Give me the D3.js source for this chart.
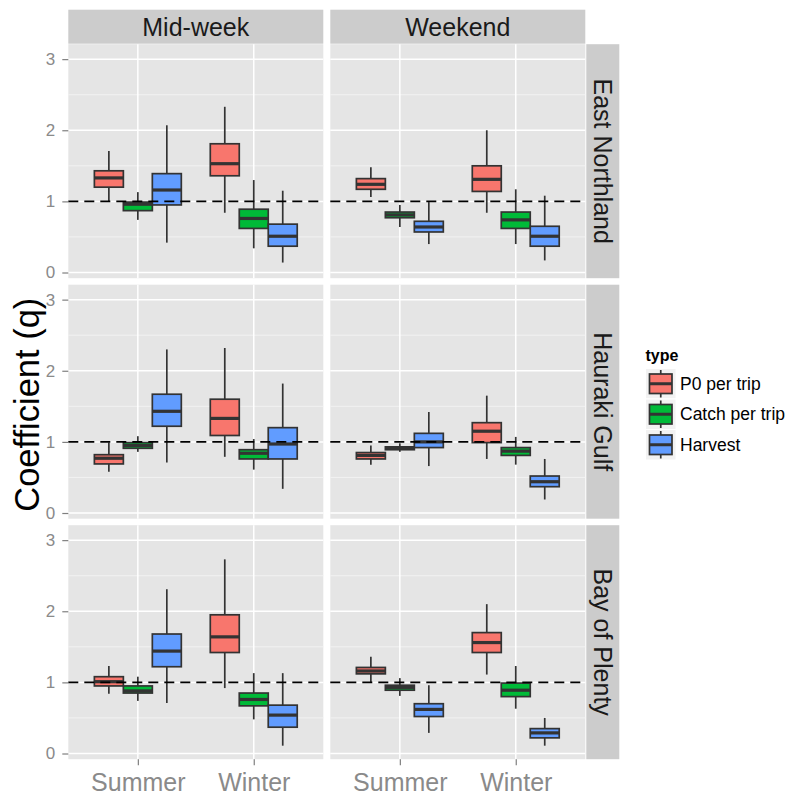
<!DOCTYPE html>
<html>
<head>
<meta charset="utf-8">
<script src="https://cdn.jsdelivr.net/npm/d3@7"></script>
<style>
  html, body { margin: 0; padding: 0; background: #ffffff; }
  svg { display: block; font-family: "Liberation Sans", Arial, sans-serif; }
</style>
</head>
<body>
<svg id="chart" width="793" height="798"></svg>
<script>
// Facet levels and categories
const regions = ["East Northland", "Hauraki Gulf", "Bay of Plenty"];
const days = ["Mid-week", "Weekend"];
const seasons = ["Summer", "Winter"];
const types = ["P0 per trip", "Catch per trip", "Harvest"];
const yTicks = [0, 1, 2, 3];
const refLine = 1;

// Box statistics per region: [day, season, type, min, lower, median, upper, max]
const eastNorthland = [
  ["Mid-week", "Summer", "P0 per trip",    0.99, 1.20, 1.33, 1.43, 1.71],
  ["Mid-week", "Summer", "Catch per trip", 0.74, 0.87, 0.96, 0.99, 1.13],
  ["Mid-week", "Summer", "Harvest",        0.42, 0.95, 1.16, 1.39, 2.07],
  ["Mid-week", "Winter", "P0 per trip",    0.84, 1.36, 1.53, 1.81, 2.33],
  ["Mid-week", "Winter", "Catch per trip", 0.34, 0.62, 0.76, 0.89, 1.30],
  ["Mid-week", "Winter", "Harvest",        0.14, 0.37, 0.51, 0.68, 1.15],
  ["Weekend",  "Summer", "P0 per trip",    1.06, 1.17, 1.24, 1.32, 1.48],
  ["Weekend",  "Summer", "Catch per trip", 0.64, 0.77, 0.81, 0.85, 0.95],
  ["Weekend",  "Summer", "Harvest",        0.40, 0.57, 0.64, 0.72, 0.99],
  ["Weekend",  "Winter", "P0 per trip",    0.84, 1.14, 1.31, 1.50, 2.00],
  ["Weekend",  "Winter", "Catch per trip", 0.40, 0.62, 0.74, 0.85, 1.17],
  ["Weekend",  "Winter", "Harvest",        0.17, 0.37, 0.51, 0.65, 1.08]
];
const haurakiGulf = [
  ["Mid-week", "Summer", "P0 per trip",    0.58, 0.69, 0.77, 0.82, 0.99],
  ["Mid-week", "Summer", "Catch per trip", 0.86, 0.91, 0.95, 0.99, 1.08],
  ["Mid-week", "Summer", "Harvest",        0.71, 1.22, 1.43, 1.67, 2.30],
  ["Mid-week", "Winter", "P0 per trip",    0.79, 1.09, 1.33, 1.60, 2.32],
  ["Mid-week", "Winter", "Catch per trip", 0.61, 0.76, 0.84, 0.89, 1.04],
  ["Mid-week", "Winter", "Harvest",        0.34, 0.76, 0.97, 1.20, 1.82],
  ["Weekend",  "Summer", "P0 per trip",    0.68, 0.76, 0.81, 0.85, 0.95],
  ["Weekend",  "Summer", "Catch per trip", 0.86, 0.89, 0.91, 0.93, 0.98],
  ["Weekend",  "Summer", "Harvest",        0.66, 0.92, 1.00, 1.12, 1.42],
  ["Weekend",  "Winter", "P0 per trip",    0.76, 0.99, 1.15, 1.27, 1.65],
  ["Weekend",  "Winter", "Catch per trip", 0.68, 0.81, 0.87, 0.92, 1.07],
  ["Weekend",  "Winter", "Harvest",        0.19, 0.37, 0.44, 0.52, 0.76]
];
const bayOfPlenty = [
  ["Mid-week", "Summer", "P0 per trip",    0.84, 0.95, 1.01, 1.08, 1.23],
  ["Mid-week", "Summer", "Catch per trip", 0.74, 0.85, 0.88, 0.95, 1.08],
  ["Mid-week", "Summer", "Harvest",        0.71, 1.22, 1.44, 1.68, 2.31],
  ["Mid-week", "Winter", "P0 per trip",    0.92, 1.42, 1.64, 1.95, 2.73],
  ["Mid-week", "Winter", "Catch per trip", 0.48, 0.67, 0.76, 0.85, 1.13],
  ["Mid-week", "Winter", "Harvest",        0.11, 0.37, 0.54, 0.68, 1.13],
  ["Weekend",  "Summer", "P0 per trip",    1.00, 1.12, 1.16, 1.21, 1.36],
  ["Weekend",  "Summer", "Catch per trip", 0.81, 0.89, 0.93, 0.96, 1.06],
  ["Weekend",  "Summer", "Harvest",        0.29, 0.52, 0.62, 0.70, 0.96],
  ["Weekend",  "Winter", "P0 per trip",    1.11, 1.42, 1.56, 1.70, 2.10],
  ["Weekend",  "Winter", "Catch per trip", 0.63, 0.80, 0.89, 0.99, 1.23],
  ["Weekend",  "Winter", "Harvest",        0.11, 0.22, 0.29, 0.35, 0.50]
];
const regionStats = [eastNorthland, haurakiGulf, bayOfPlenty];

// Styling
const fillColours = ["#F8766D", "#00BA38", "#619CFF"];
const panelBg = "#E5E5E5";
const stripBg = "#CCCCCC";
const lineCol = "#333333";
const greyText = "#8A8A8A";

// Layout
const panelLeft = 68.3, panelTop = 44.2;
const panelW = 255, panelH = 234;
const gapX = 7, gapY = 6.5;
const stripH = 34, stripW = 33;

const svg = d3.select("#chart");

const colour = d3.scaleOrdinal().domain(types).range(fillColours);
const x = d3.scalePoint().domain(seasons).range([0, panelW]).padding(0.6);
const step = x.step();
const dodge = d3.scaleBand().domain(types).range([-0.375 * step, 0.375 * step]);
const y = d3.scaleLinear().domain([-0.08, 3.21]).range([panelH, 0]);
const minorTicks = [0.5, 1.5, 2.5];

const col = d3.scaleOrdinal().domain(days).range(days.map((d, i) => panelLeft + i * (panelW + gapX)));
const row = d3.scaleOrdinal().domain(regions).range(regions.map((r, i) => panelTop + i * (panelH + gapY)));

regions.forEach((region, ri) => {
  const rows = regionStats[ri].map(d => ({
    day: d[0], season: d[1], type: d[2],
    min: d[3], lower: d[4], mid: d[5], upper: d[6], max: d[7]
  }));
  days.forEach(day => {
    const g = svg.append("g").attr("transform", `translate(${col(day)},${row(region)})`);
    g.append("rect").attr("width", panelW).attr("height", panelH).attr("fill", panelBg);

    // minor grid
    g.selectAll(".minor").data(minorTicks).enter().append("line")
      .attr("x1", 0).attr("x2", panelW)
      .attr("y1", d => y(d)).attr("y2", d => y(d))
      .attr("stroke", "#F2F2F2").attr("stroke-width", 1);
    // major grid
    g.selectAll(".majorY").data(yTicks).enter().append("line")
      .attr("x1", 0).attr("x2", panelW)
      .attr("y1", d => y(d)).attr("y2", d => y(d))
      .attr("stroke", "#FFFFFF").attr("stroke-width", 1.5);
    g.selectAll(".majorX").data(seasons).enter().append("line")
      .attr("y1", 0).attr("y2", panelH)
      .attr("x1", d => x(d)).attr("x2", d => x(d))
      .attr("stroke", "#FFFFFF").attr("stroke-width", 1.5);

    const boxes = rows.filter(d => d.day === day);
    const bw = dodge.bandwidth();
    const bg = g.selectAll(".box").data(boxes).enter().append("g")
      .attr("transform", d => `translate(${x(d.season) + dodge(d.type)},0)`);
    // whiskers
    bg.append("line").attr("x1", bw / 2).attr("x2", bw / 2)
      .attr("y1", d => y(d.max)).attr("y2", d => y(d.upper))
      .attr("stroke", lineCol).attr("stroke-width", 1.7);
    bg.append("line").attr("x1", bw / 2).attr("x2", bw / 2)
      .attr("y1", d => y(d.lower)).attr("y2", d => y(d.min))
      .attr("stroke", lineCol).attr("stroke-width", 1.7);
    // box
    bg.append("rect").attr("x", 0).attr("width", bw)
      .attr("y", d => y(d.upper)).attr("height", d => y(d.lower) - y(d.upper))
      .attr("fill", d => colour(d.type))
      .attr("stroke", lineCol).attr("stroke-width", 1.7);
    // median
    bg.append("line").attr("x1", 0).attr("x2", bw)
      .attr("y1", d => y(d.mid)).attr("y2", d => y(d.mid))
      .attr("stroke", lineCol).attr("stroke-width", 3.2);

    // reference line
    g.append("line").attr("x1", 0).attr("x2", panelW)
      .attr("y1", y(refLine)).attr("y2", y(refLine))
      .attr("stroke", "#000000").attr("stroke-width", 1.8)
      .attr("stroke-dasharray", "10,6");
  });

  // y axis for the left column
  const ay = svg.append("g").attr("transform", `translate(${panelLeft},${row(region)})`);
  ay.call(d3.axisLeft(y).tickValues(yTicks).tickSize(6).tickPadding(7).tickFormat(d3.format("d")));
  ay.select(".domain").remove();
  ay.selectAll(".tick line").attr("stroke", "#7F7F7F").attr("stroke-width", 1.2);
  ay.selectAll(".tick text").attr("fill", greyText).attr("font-size", 17)
    .attr("font-family", "Liberation Sans, Arial, sans-serif");

  // right strip
  const sx = col(days[days.length - 1]) + panelW + 1;
  svg.append("rect").attr("x", sx).attr("y", row(region))
    .attr("width", stripW).attr("height", panelH).attr("fill", stripBg);
  svg.append("text")
    .attr("transform", `translate(${sx + stripW / 2},${row(region) + panelH / 2}) rotate(90)`)
    .attr("text-anchor", "middle").attr("dominant-baseline", "central")
    .attr("font-size", 25).attr("fill", "#1a1a1a").text(region);
});

// top strips and x axes
days.forEach(day => {
  svg.append("rect").attr("x", col(day)).attr("y", panelTop - stripH - 0.5)
    .attr("width", panelW).attr("height", stripH).attr("fill", stripBg);
  svg.append("text").attr("x", col(day) + panelW / 2).attr("y", panelTop - stripH / 2 - 0.5)
    .attr("text-anchor", "middle").attr("dominant-baseline", "central")
    .attr("font-size", 25).attr("fill", "#1a1a1a").text(day);

  const bottom = row(regions[regions.length - 1]) + panelH;
  const ax = svg.append("g").attr("transform", `translate(${col(day)},${bottom})`);
  ax.call(d3.axisBottom(x).tickSize(6).tickPadding(8));
  ax.select(".domain").remove();
  ax.selectAll(".tick line").attr("stroke", "#7F7F7F").attr("stroke-width", 1.2);
  ax.selectAll(".tick text").attr("fill", greyText).attr("font-size", 25)
    .attr("font-family", "Liberation Sans, Arial, sans-serif");
});

// y axis title
const midY = panelTop + (regions.length * panelH + (regions.length - 1) * gapY) / 2;
svg.append("text")
  .attr("transform", `translate(27,${midY + 3}) rotate(-90)`)
  .attr("text-anchor", "middle").attr("dominant-baseline", "central")
  .attr("font-size", 34.5).attr("fill", "#000000").text("Coefficient (q)");

// legend
const lg = svg.append("g").attr("transform", "translate(645.5,0)");
lg.append("text").attr("x", 0).attr("y", 361).attr("font-size", 16)
  .attr("font-weight", "bold").attr("fill", "#000000").text("type");
const keySize = 30.5;
const key = lg.selectAll(".key").data(types).enter().append("g")
  .attr("transform", (d, i) => `translate(0,${368.5 + i * keySize})`);
key.append("rect").attr("width", keySize).attr("height", keySize)
  .attr("fill", "#F2F2F2").attr("stroke", "#FFFFFF").attr("stroke-width", 1);
key.append("line").attr("x1", keySize / 2).attr("x2", keySize / 2)
  .attr("y1", 1.5).attr("y2", keySize - 1.5)
  .attr("stroke", lineCol).attr("stroke-width", 1.7);
key.append("rect").attr("x", 4).attr("y", 5.5).attr("width", keySize - 8).attr("height", keySize - 11)
  .attr("fill", d => colour(d)).attr("stroke", lineCol).attr("stroke-width", 1.7);
key.append("line").attr("x1", 4).attr("x2", keySize - 4)
  .attr("y1", keySize / 2).attr("y2", keySize / 2)
  .attr("stroke", lineCol).attr("stroke-width", 3);
key.append("text").attr("x", keySize + 4).attr("y", keySize / 2)
  .attr("dominant-baseline", "central").attr("font-size", 17.5).attr("fill", "#000000")
  .text(d => d);
</script>
</body>
</html>
